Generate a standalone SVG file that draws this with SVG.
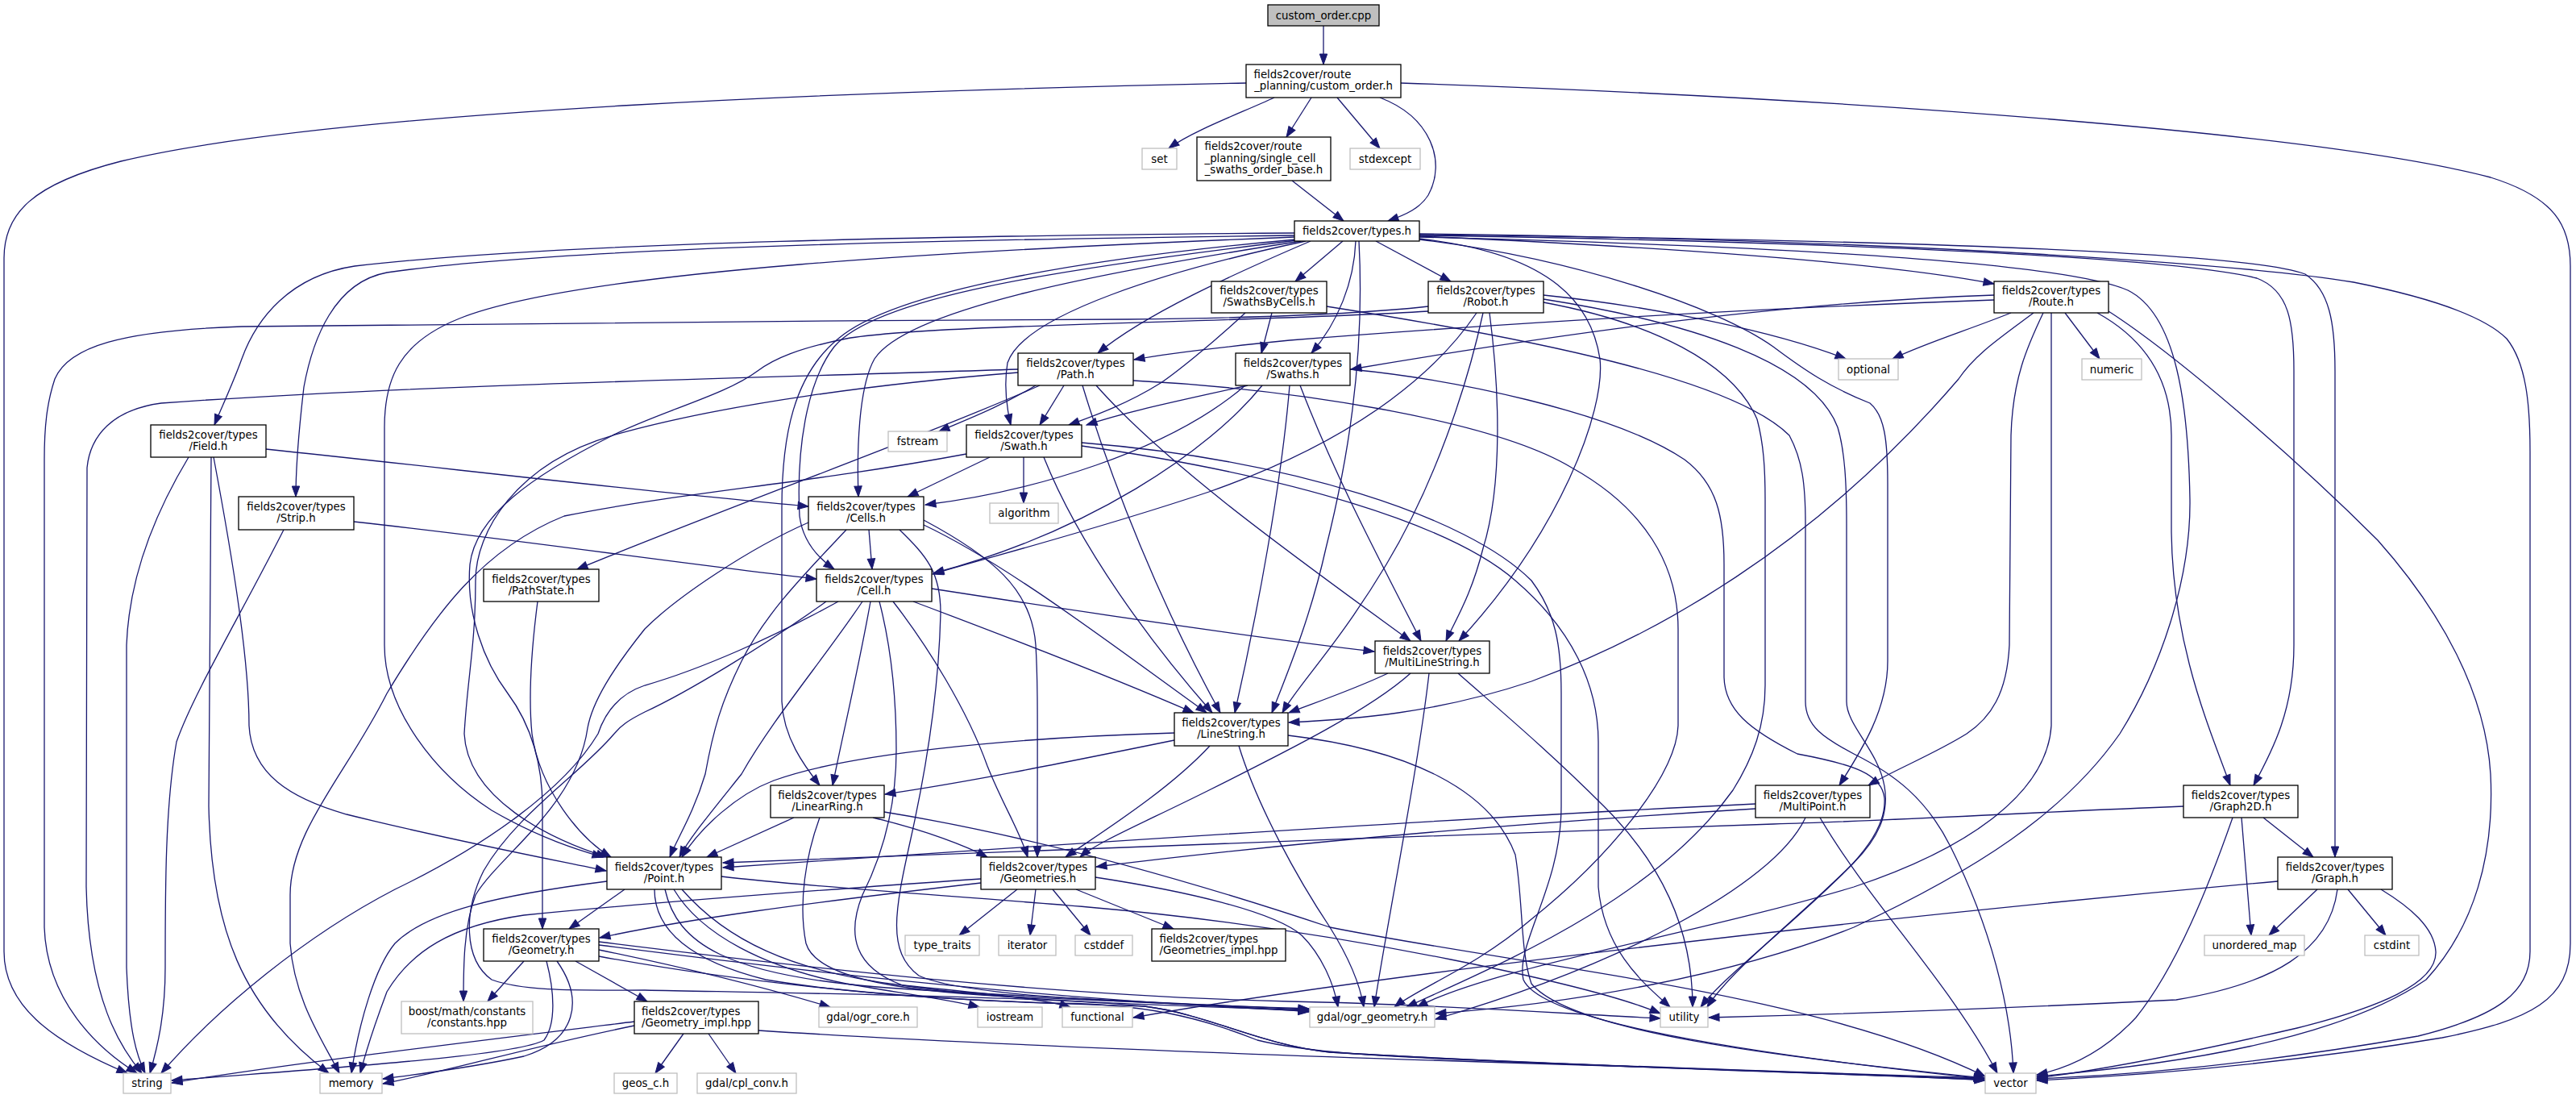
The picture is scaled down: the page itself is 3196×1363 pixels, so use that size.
<svg xmlns="http://www.w3.org/2000/svg" width="3196" height="1363" viewBox="0 0 3196 1363">
<style>
text{font-family:"DejaVu Sans","Liberation Sans",sans-serif;font-size:13.33px;fill:#000}
.m{text-anchor:middle}
.n rect{fill:#fff;stroke:#000;stroke-width:1.3}
.x rect{fill:#fff;stroke:#bfbfbf;stroke-width:1.3}
.r rect{fill:#bfbfbf;stroke:#000;stroke-width:1.3}
#edges path{fill:none;stroke:#191970;stroke-width:1.3;marker-end:url(#a)}
</style>
<defs>
<marker id="a" markerUnits="userSpaceOnUse" markerWidth="14" markerHeight="10" refX="13" refY="4.7" orient="auto" overflow="visible"><path d="M0,0L13,4.7L0,9.4Z" fill="#191970" stroke="#191970" stroke-width="1"/></marker>
</defs>
<rect width="3196" height="1363" fill="#fff"/>
<g id="edges">
<path d="M1642,32 L1642,80"/>
<path d="M1546,103 C1100,112 420,135 150,200 C40,228 5,265 5,320 L5,1180 C5,1245 60,1290 158,1331"/>
<path d="M1581,121 C1540,140 1480,162 1450,184"/>
<path d="M1627,121 L1596,170"/>
<path d="M1659,121 L1712,184"/>
<path d="M1712,121 C1775,145 1795,200 1772,242 C1762,258 1745,266 1722,274"/>
<path d="M1738,103 C2300,122 2880,165 3090,220 C3170,245 3189,280 3189,330 L3189,1170 C3189,1240 3140,1265 3030,1287 C2820,1322 2650,1334 2527,1340"/>
<path d="M1603,224 L1667,274"/>
<path d="M1606,289 C1200,292 700,300 440,330 C360,342 318,395 300,445 C288,478 275,505 266,527"/>
<path d="M1606,292 C1200,297 700,306 480,338 C415,350 388,420 377,480 C370,540 367,580 367,616"/>
<path d="M1606,294 C1200,310 720,335 570,395 C495,425 477,470 477,530 L477,800 C477,880 540,960 610,1005 C670,1040 720,1055 748,1063"/>
<path d="M1608,297 C1350,320 1110,360 1040,420 C985,465 970,540 970,630 L970,870 C972,915 998,950 1017,974"/>
<path d="M1610,298 C1300,335 1085,370 1035,430 C1000,475 988,560 992,640 C996,672 1015,692 1035,706"/>
<path d="M1614,299 C1350,340 1125,385 1085,445 C1065,480 1063,560 1065,616"/>
<path d="M1620,299 C1450,335 1270,390 1250,450 C1245,480 1250,510 1254,527"/>
<path d="M1626,299 C1530,340 1420,390 1362,438"/>
<path d="M1666,299 L1607,349"/>
<path d="M1682,299 C1680,350 1660,400 1627,438"/>
<path d="M1707,299 L1800,349"/>
<path d="M1686,299 C1694,450 1670,580 1645,680 C1625,770 1595,840 1578,884"/>
<path d="M1761,296 C1930,315 1975,380 1985,445 C1992,510 1935,660 1810,795"/>
<path d="M1761,293 C2100,308 2350,328 2474,352"/>
<path d="M1761,294 C2200,305 2560,325 2640,360 C2700,390 2715,500 2717,620 C2718,720 2680,830 2630,910 C2560,1010 2450,1080 2300,1150 C2150,1210 1950,1245 1781,1257"/>
<path d="M1761,297 C1950,320 2130,380 2200,430 C2240,460 2270,480 2320,500 C2338,515 2342,545 2342,600 L2342,820 C2342,880 2310,930 2282,974"/>
<path d="M1761,292 C2300,300 2700,320 2800,345 C2840,360 2846,400 2846,460 L2846,800 C2846,880 2820,930 2796,974"/>
<path d="M1761,291 C2300,297 2780,310 2860,340 C2890,360 2897,400 2897,460 L2897,1063"/>
<path d="M1761,290 C2400,298 2800,330 2920,350 C3010,368 3080,390 3110,420 C3134,450 3139,500 3139,560 L3139,1180 C3139,1230 3100,1260 3000,1285 C2800,1320 2650,1333 2527,1338"/>
<path d="M1578,388 L1565,438"/>
<path d="M1545,388 C1500,430 1455,465 1440,475 C1400,500 1360,515 1326,527"/>
<path d="M1646,380 C1900,420 2150,470 2220,540 C2236,570 2240,600 2240,650 L2240,870 C2240,900 2262,915 2300,935 C2350,960 2390,990 2420,1050 C2470,1150 2495,1250 2498,1331"/>
<path d="M1772,380 C1700,388 1600,394 1400,396 C1000,398 500,400 300,405 C150,410 85,430 68,470 C58,500 55,530 55,570 L55,1150 C58,1240 120,1300 170,1331"/>
<path d="M1772,386 C1550,400 1150,402 1050,420 C990,432 960,445 940,460 C900,490 820,510 760,540 C660,590 590,640 583,700 C578,760 600,820 630,860 C660,900 673,950 673,1000 L673,1152"/>
<path d="M1832,388 C1790,450 1700,540 1500,610 C1350,660 1230,690 1157,712"/>
<path d="M1840,388 C1820,480 1780,600 1720,700 C1660,800 1610,850 1591,884"/>
<path d="M1848,388 C1860,480 1865,600 1840,680 C1825,740 1805,770 1794,795"/>
<path d="M1915,366 C2050,380 2200,410 2290,445"/>
<path d="M1915,375 C2050,400 2150,450 2180,520 C2188,550 2190,580 2190,620 L2190,850 C2190,900 2175,940 2150,980 C2050,1120 1850,1200 1745,1249"/>
<path d="M1915,371 C2100,400 2250,450 2280,530 C2289,560 2291,600 2291,650 L2291,870 C2291,900 2330,930 2338,975 C2344,1010 2330,1040 2300,1070 C2230,1140 2150,1200 2118,1249"/>
<path d="M2474,366 C2200,375 1900,420 1676,458"/>
<path d="M2474,372 C2100,385 1750,410 1600,422 C1520,430 1450,438 1407,446"/>
<path d="M2495,388 C2440,410 2390,425 2348,445"/>
<path d="M2523,388 C2480,420 2450,440 2430,470 C2250,680 2050,790 1900,845 C1780,885 1680,892 1599,896"/>
<path d="M2535,388 C2515,430 2497,470 2495,540 L2493,800 C2490,860 2470,890 2440,910 C2400,935 2350,955 2318,974"/>
<path d="M2562,388 L2605,445"/>
<path d="M2602,388 C2660,420 2694,470 2694,540 L2694,660 C2696,800 2740,900 2767,974"/>
<path d="M2545,388 L2545,900 C2540,980 2450,1050 2300,1100 C2100,1160 1850,1200 1758,1249"/>
<path d="M2616,386 C2700,440 2850,570 2950,670 C3030,760 3084,860 3090,960 C3095,1060 3070,1150 3010,1215 C2900,1290 2700,1320 2527,1335"/>
<path d="M1263,458 C900,470 500,478 200,500 C140,508 112,540 108,580 L107,1100 C110,1240 150,1300 176,1331"/>
<path d="M1290,478 C1150,540 900,630 716,706"/>
<path d="M1285,478 C1240,505 1200,520 1165,535"/>
<path d="M1320,478 L1290,527"/>
<path d="M1263,462 C1100,475 900,500 760,540 C640,575 590,660 590,720 C590,800 580,840 576,910 C580,990 680,1040 753,1063"/>
<path d="M1343,478 C1380,600 1440,750 1514,884"/>
<path d="M1360,478 C1450,580 1620,700 1750,795"/>
<path d="M1406,472 C1600,482 1850,520 1950,580 C2040,630 2082,700 2082,780 L2082,900 C2080,960 2000,1060 1900,1140 C1830,1200 1760,1225 1730,1249"/>
<path d="M1548,478 C1450,500 1400,510 1348,527"/>
<path d="M1545,478 C1450,560 1280,610 1148,626"/>
<path d="M1566,478 C1500,560 1350,660 1158,711"/>
<path d="M1600,478 C1590,600 1560,760 1532,884"/>
<path d="M1613,478 C1660,600 1720,710 1763,795"/>
<path d="M1675,458 C1800,470 2000,510 2090,570 C2130,600 2139,640 2139,700 L2139,840 C2140,880 2170,905 2230,935 C2300,948 2335,960 2338,990 C2340,1020 2320,1050 2290,1080 C2220,1150 2140,1210 2110,1249"/>
<path d="M1270,567 L1270,624"/>
<path d="M1228,567 L1126,616"/>
<path d="M1295,567 C1340,680 1430,800 1504,884"/>
<path d="M1199,563 C1000,600 850,610 700,640 C600,680 540,760 480,860 C430,960 360,1030 360,1110 L360,1170 C365,1240 400,1290 421,1331"/>
<path d="M1342,549 C1600,570 1820,640 1900,720 C1930,760 1937,800 1937,860 L1937,1000 C1937,1100 1880,1170 1890,1215 C1910,1260 2100,1300 2462,1338"/>
<path d="M1342,553 C1600,590 1800,650 1880,720 C1950,780 1983,850 1983,920 L1983,1100 C1990,1180 2040,1220 2072,1249"/>
<path d="M234,567 C190,640 160,720 157,800 L157,1200 C160,1280 170,1310 180,1331"/>
<path d="M262,567 L259,1000 C262,1150 300,1250 408,1331"/>
<path d="M265,567 C290,700 309,820 309,900 C312,960 360,990 430,1010 C550,1040 680,1065 752,1080"/>
<path d="M330,557 C550,580 800,610 1003,628"/>
<path d="M352,657 C300,760 240,860 219,920 C205,1000 205,1100 205,1200 C205,1260 195,1300 186,1331"/>
<path d="M439,647 C650,670 850,700 1013,718"/>
<path d="M667,746 C660,800 655,860 660,910 C670,980 720,1040 758,1063"/>
<path d="M1078,657 L1082,706"/>
<path d="M1050,657 C1000,710 950,760 920,820 C895,870 885,905 875,960 C860,1010 840,1040 831,1063"/>
<path d="M1003,648 C930,680 840,740 800,780 C760,830 735,870 729,903 C715,1000 620,1060 590,1110 C575,1150 575,1200 575,1242"/>
<path d="M1146,651 C1250,700 1380,800 1497,884"/>
<path d="M1146,645 C1230,690 1280,730 1285,800 C1288,850 1287,900 1287,1063"/>
<path d="M1116,657 C1150,690 1167,710 1167,760 C1165,850 1150,950 1130,1040 C1110,1130 1100,1180 1140,1210 C1200,1238 1450,1245 1624,1251"/>
<path d="M1080,746 C1065,830 1048,900 1033,974"/>
<path d="M1070,746 C1020,820 960,890 920,960 C880,1010 855,1040 843,1063"/>
<path d="M1108,746 C1150,800 1200,880 1225,950 C1245,1000 1265,1030 1275,1063"/>
<path d="M1133,746 C1250,790 1380,840 1481,884"/>
<path d="M1156,730 C1350,760 1550,790 1705,808"/>
<path d="M1040,746 C960,790 870,830 800,850 C770,860 752,880 742,910 C700,980 600,1050 490,1103 C380,1160 270,1250 200,1331"/>
<path d="M1091,746 C1105,800 1112,860 1112,930 C1112,1000 1095,1060 1070,1110 C1050,1160 1060,1200 1120,1222 C1250,1242 1450,1247 1624,1253"/>
<path d="M1025,746 C950,800 850,860 800,883 C780,893 770,900 762,910 C720,960 640,1010 600,1080 C575,1130 575,1190 610,1215 C650,1230 720,1228 800,1228 C1000,1232 1300,1236 1420,1248 C1500,1258 1560,1295 1650,1305 C1900,1320 2300,1332 2463,1337"/>
<path d="M1722,835 C1680,855 1630,872 1599,884"/>
<path d="M1750,835 C1700,880 1600,930 1500,980 C1420,1020 1360,1045 1340,1063"/>
<path d="M1773,835 C1760,950 1720,1150 1705,1249"/>
<path d="M1809,835 C1860,880 1920,930 1990,1000 C2060,1070 2100,1150 2100,1249"/>
<path d="M1457,909 C1250,915 1050,935 960,968 C915,985 870,1025 846,1063"/>
<path d="M1457,918 C1300,950 1200,970 1098,985"/>
<path d="M1501,925 C1450,980 1370,1030 1322,1063"/>
<path d="M1537,925 C1560,1000 1610,1090 1650,1150 C1675,1190 1688,1225 1692,1249"/>
<path d="M1598,912 C1750,930 1850,980 1880,1060 C1890,1120 1886,1180 1900,1220 C1950,1280 2200,1310 2462,1337"/>
<path d="M985,1014 L877,1063"/>
<path d="M1083,1014 C1150,1030 1200,1050 1225,1063"/>
<path d="M1017,1014 C1000,1060 990,1120 1000,1170 C1012,1210 1100,1228 1250,1236 C1400,1242 1530,1247 1624,1255"/>
<path d="M1097,1007 C1300,1040 1500,1100 1650,1150 C1900,1200 2250,1230 2463,1335"/>
<path d="M2178,997 C1800,1015 1200,1055 897,1076"/>
<path d="M2178,1003 C1900,1020 1600,1045 1360,1075"/>
<path d="M2240,1014 C2200,1100 2000,1200 1781,1264"/>
<path d="M2258,1014 C2320,1120 2420,1220 2478,1331"/>
<path d="M2709,1000 C2500,1008 2350,1018 2200,1022 C1800,1035 1200,1058 897,1070"/>
<path d="M2808,1014 L2870,1063"/>
<path d="M2781,1014 L2793,1160"/>
<path d="M2770,1014 C2740,1100 2700,1200 2650,1262 C2610,1305 2565,1325 2527,1333"/>
<path d="M2875,1103 L2815,1160"/>
<path d="M2913,1103 L2960,1160"/>
<path d="M2826,1093 C2300,1140 1700,1210 1406,1262"/>
<path d="M2900,1103 C2890,1180 2820,1220 2700,1240 C2400,1255 2200,1260 2120,1262"/>
<path d="M2954,1103 C2990,1125 3020,1150 3022,1180 C3024,1220 2950,1250 2850,1275 C2720,1305 2600,1328 2527,1337"/>
<path d="M753,1093 C620,1110 530,1130 490,1170 C465,1200 445,1270 436,1331"/>
<path d="M775,1103 L706,1152"/>
<path d="M895,1087 C1000,1100 1200,1112 1350,1125 C1500,1138 1650,1160 1800,1190 C1950,1220 2020,1240 2060,1257"/>
<path d="M836,1103 C870,1160 950,1200 1050,1220 C1120,1232 1180,1240 1215,1249"/>
<path d="M846,1103 C900,1165 980,1205 1120,1222 C1220,1232 1290,1238 1328,1249"/>
<path d="M825,1103 C840,1170 900,1210 1100,1225 C1300,1238 1500,1246 1624,1252"/>
<path d="M812,1103 C812,1150 850,1190 950,1215 C1100,1240 1300,1244 1420,1248 C1500,1258 1560,1295 1650,1305 C1900,1320 2300,1333 2463,1338"/>
<path d="M1262,1103 L1190,1160"/>
<path d="M1285,1103 L1278,1160"/>
<path d="M1306,1103 L1353,1160"/>
<path d="M1335,1103 L1456,1152"/>
<path d="M1217,1095 C1000,1120 850,1140 744,1163"/>
<path d="M1217,1090 C1000,1105 800,1120 650,1135 C560,1148 510,1180 480,1230 C465,1270 455,1300 447,1331"/>
<path d="M1359,1088 C1470,1105 1580,1130 1615,1160 C1640,1185 1655,1220 1660,1249"/>
<path d="M650,1192 L605,1242"/>
<path d="M714,1192 L803,1242"/>
<path d="M678,1192 C688,1230 690,1270 675,1290 C640,1310 400,1325 213,1340"/>
<path d="M691,1192 C725,1240 715,1290 650,1310 C580,1325 520,1332 475,1338"/>
<path d="M743,1178 C850,1200 950,1225 1030,1249"/>
<path d="M743,1172 C1000,1205 1300,1240 1624,1254"/>
<path d="M743,1168 C1000,1200 1300,1235 1600,1242 C1800,1246 1950,1258 2060,1263"/>
<path d="M743,1186 C900,1215 1100,1238 1300,1244 C1420,1244 1490,1262 1560,1290 C1620,1305 1700,1310 1900,1318 C2200,1328 2400,1335 2463,1339"/>
<path d="M787,1267 C600,1290 350,1320 213,1343"/>
<path d="M787,1272 C650,1300 550,1330 475,1344"/>
<path d="M848,1282 L813,1331"/>
<path d="M879,1282 L913,1331"/>
<path d="M941,1278 C1200,1295 1600,1310 2000,1322 C2250,1330 2400,1336 2463,1340"/>
</g>
<g id="n0" class="r"><rect x="1573" y="6" width="138" height="26"/><text class="m" x="1642" y="23.5">custom_order.cpp</text></g>
<g id="n1" class="n"><rect x="1546" y="80" width="192" height="41"/><text x="1555.5" y="97">fields2cover/route</text><text class="m" x="1642" y="111">_planning/custom_order.h</text></g>
<g id="n2" class="x"><rect x="1417" y="184" width="43" height="26"/><text class="m" x="1438.5" y="201.5">set</text></g>
<g id="n3" class="n"><rect x="1485" y="170" width="166" height="54"/><text x="1494.5" y="186">fields2cover/route</text><text x="1494.5" y="201">_planning/single_cell</text><text class="m" x="1568" y="215">_swaths_order_base.h</text></g>
<g id="n4" class="x"><rect x="1675" y="184" width="87" height="26"/><text class="m" x="1718.5" y="201.5">stdexcept</text></g>
<g id="n5" class="n"><rect x="1606" y="274" width="155" height="25"/><text class="m" x="1683.5" y="291">fields2cover/types.h</text></g>
<g id="n6" class="n"><rect x="1503" y="349" width="143" height="39"/><text class="m" x="1574.5" y="365">fields2cover/types</text><text class="m" x="1574.5" y="379">/SwathsByCells.h</text></g>
<g id="n7" class="n"><rect x="1772" y="349" width="143" height="39"/><text class="m" x="1843.5" y="365">fields2cover/types</text><text class="m" x="1843.5" y="379">/Robot.h</text></g>
<g id="n8" class="n"><rect x="2474" y="349" width="142" height="39"/><text class="m" x="2545" y="365">fields2cover/types</text><text class="m" x="2545" y="379">/Route.h</text></g>
<g id="n9" class="x"><rect x="2281" y="445" width="74" height="26"/><text class="m" x="2318" y="462.5">optional</text></g>
<g id="n10" class="x"><rect x="2583" y="445" width="74" height="26"/><text class="m" x="2620" y="462.5">numeric</text></g>
<g id="n11" class="n"><rect x="1263" y="438" width="143" height="40"/><text class="m" x="1334.5" y="454.5">fields2cover/types</text><text class="m" x="1334.5" y="468.5">/Path.h</text></g>
<g id="n12" class="n"><rect x="1533" y="438" width="142" height="40"/><text class="m" x="1604" y="454.5">fields2cover/types</text><text class="m" x="1604" y="468.5">/Swaths.h</text></g>
<g id="n13" class="n"><rect x="187" y="527" width="143" height="40"/><text class="m" x="258.5" y="543.5">fields2cover/types</text><text class="m" x="258.5" y="557.5">/Field.h</text></g>
<g id="n14" class="n"><rect x="296" y="616" width="143" height="41"/><text class="m" x="367.5" y="633">fields2cover/types</text><text class="m" x="367.5" y="647">/Strip.h</text></g>
<g id="n15" class="n"><rect x="600" y="706" width="143" height="40"/><text class="m" x="671.5" y="722.5">fields2cover/types</text><text class="m" x="671.5" y="736.5">/PathState.h</text></g>
<g id="n16" class="x"><rect x="1102" y="535" width="73" height="25"/><text class="m" x="1138.5" y="552">fstream</text></g>
<g id="n17" class="n"><rect x="1199" y="527" width="143" height="40"/><text class="m" x="1270.5" y="543.5">fields2cover/types</text><text class="m" x="1270.5" y="557.5">/Swath.h</text></g>
<g id="n18" class="n"><rect x="1003" y="616" width="143" height="41"/><text class="m" x="1074.5" y="633">fields2cover/types</text><text class="m" x="1074.5" y="647">/Cells.h</text></g>
<g id="n19" class="x"><rect x="1228" y="624" width="85" height="25"/><text class="m" x="1270.5" y="641">algorithm</text></g>
<g id="n20" class="n"><rect x="1013" y="706" width="143" height="40"/><text class="m" x="1084.5" y="722.5">fields2cover/types</text><text class="m" x="1084.5" y="736.5">/Cell.h</text></g>
<g id="n21" class="n"><rect x="1706" y="795" width="142" height="40"/><text class="m" x="1777" y="811.5">fields2cover/types</text><text class="m" x="1777" y="825.5">/MultiLineString.h</text></g>
<g id="n22" class="n"><rect x="1457" y="884" width="141" height="41"/><text class="m" x="1527.5" y="901">fields2cover/types</text><text class="m" x="1527.5" y="915">/LineString.h</text></g>
<g id="n23" class="n"><rect x="956" y="974" width="141" height="40"/><text class="m" x="1026.5" y="990.5">fields2cover/types</text><text class="m" x="1026.5" y="1004.5">/LinearRing.h</text></g>
<g id="n24" class="n"><rect x="2178" y="974" width="142" height="40"/><text class="m" x="2249" y="990.5">fields2cover/types</text><text class="m" x="2249" y="1004.5">/MultiPoint.h</text></g>
<g id="n25" class="n"><rect x="2709" y="974" width="142" height="40"/><text class="m" x="2780" y="990.5">fields2cover/types</text><text class="m" x="2780" y="1004.5">/Graph2D.h</text></g>
<g id="n26" class="n"><rect x="753" y="1063" width="142" height="40"/><text class="m" x="824" y="1079.5">fields2cover/types</text><text class="m" x="824" y="1093.5">/Point.h</text></g>
<g id="n27" class="n"><rect x="1217" y="1063" width="142" height="40"/><text class="m" x="1288" y="1079.5">fields2cover/types</text><text class="m" x="1288" y="1093.5">/Geometries.h</text></g>
<g id="n28" class="n"><rect x="2826" y="1063" width="142" height="40"/><text class="m" x="2897" y="1079.5">fields2cover/types</text><text class="m" x="2897" y="1093.5">/Graph.h</text></g>
<g id="n29" class="n"><rect x="600" y="1152" width="143" height="40"/><text class="m" x="671.5" y="1168.5">fields2cover/types</text><text class="m" x="671.5" y="1182.5">/Geometry.h</text></g>
<g id="n30" class="x"><rect x="1123" y="1160" width="92" height="25"/><text class="m" x="1169" y="1177">type_traits</text></g>
<g id="n31" class="x"><rect x="1239" y="1160" width="71" height="25"/><text class="m" x="1274.5" y="1177">iterator</text></g>
<g id="n32" class="x"><rect x="1334" y="1160" width="71" height="25"/><text class="m" x="1369.5" y="1177">cstddef</text></g>
<g id="n33" class="n"><rect x="1429" y="1152" width="166" height="40"/><text x="1438.5" y="1168.5">fields2cover/types</text><text class="m" x="1512" y="1182.5">/Geometries_impl.hpp</text></g>
<g id="n34" class="x"><rect x="2735" y="1160" width="124" height="25"/><text class="m" x="2797" y="1177">unordered_map</text></g>
<g id="n35" class="x"><rect x="2934" y="1160" width="67" height="25"/><text class="m" x="2967.5" y="1177">cstdint</text></g>
<g id="n36" class="x"><rect x="498" y="1242" width="163" height="40"/><text class="m" x="579.5" y="1258.5">boost/math/constants</text><text class="m" x="579.5" y="1272.5">/constants.hpp</text></g>
<g id="n37" class="n"><rect x="787" y="1242" width="154" height="40"/><text x="796" y="1258.5">fields2cover/types</text><text class="m" x="864" y="1272.5">/Geometry_impl.hpp</text></g>
<g id="n38" class="x"><rect x="1016" y="1249" width="122" height="25"/><text class="m" x="1077" y="1266">gdal/ogr_core.h</text></g>
<g id="n39" class="x"><rect x="1213" y="1249" width="80" height="25"/><text class="m" x="1253" y="1266">iostream</text></g>
<g id="n40" class="x"><rect x="1318" y="1249" width="87" height="25"/><text class="m" x="1361.5" y="1266">functional</text></g>
<g id="n41" class="x"><rect x="1625" y="1249" width="155" height="25"/><text class="m" x="1702.5" y="1266">gdal/ogr_geometry.h</text></g>
<g id="n42" class="x"><rect x="2060" y="1249" width="59" height="25"/><text class="m" x="2089.5" y="1266">utility</text></g>
<g id="n43" class="x"><rect x="153" y="1331" width="59" height="25"/><text class="m" x="182.5" y="1348">string</text></g>
<g id="n44" class="x"><rect x="397" y="1331" width="77" height="25"/><text class="m" x="435.5" y="1348">memory</text></g>
<g id="n45" class="x"><rect x="762" y="1331" width="78" height="25"/><text class="m" x="801" y="1348">geos_c.h</text></g>
<g id="n46" class="x"><rect x="865" y="1331" width="123" height="25"/><text class="m" x="926.5" y="1348">gdal/cpl_conv.h</text></g>
<g id="n47" class="x"><rect x="2463" y="1331" width="63" height="25"/><text class="m" x="2494.5" y="1348">vector</text></g>
</svg>
